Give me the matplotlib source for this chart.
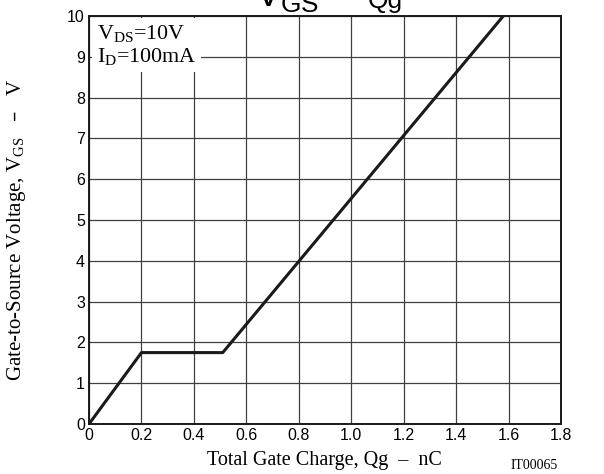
import matplotlib
matplotlib.use('Agg')
import matplotlib.pyplot as plt

# gate charge curve
qg = [0.0, 0.2, 0.51, 1.58]
vgs = [0.0, 1.75, 1.75, 10.0]

x_ticks = [0, 0.2, 0.4, 0.6, 0.8, 1.0, 1.2, 1.4, 1.6, 1.8]
x_labels = ['0', '0.2', '0.4', '0.6', '0.8', '1.0', '1.2', '1.4', '1.6', '1.8']
y_ticks = list(range(0, 11))

W, H = 604, 474
fig = plt.figure(figsize=(W / 100, H / 100), dpi=100)
ax = fig.add_axes([89 / W, 1 - 424 / H, 472 / W, 408 / H])

ax.plot(qg, vgs, color='#1a1a1a', lw=2.2, zorder=3, solid_capstyle='butt')

ax.set_xlim(0, 1.8)
ax.set_ylim(0, 10)
ax.set_xticks(x_ticks)
ax.set_xticklabels(x_labels)
ax.set_yticks(y_ticks)
ax.tick_params(length=0, labelsize=11.5, pad=3)
for lab in ax.get_xticklabels() + ax.get_yticklabels():
    lab.set_fontfamily('Liberation Sans')
ax.grid(True, color='#404040', lw=0.9)
for s in ax.spines.values():
    s.set_linewidth(1.4)
    s.set_color('#1a1a1a')

serif = 'Liberation Serif'
ax.text(8 / 472, 1 - 7 / 408,
        '$\\mathregular{V_{DS}}$=10V\n$\\mathregular{I_D}$=100mA',
        transform=ax.transAxes, ha='left', va='top', fontsize=15.8,
        family=serif, linespacing=1.15, zorder=4, clip_on=True,
        bbox=dict(facecolor='white', edgecolor='none', pad=3.5))

fig.text(324 / W, 1 - 465 / H, 'Total Gate Charge, Qg  \u2013  nC', family=serif,
         fontsize=14.5, ha='center', va='baseline')
fig.text(17 / W, 1 - 230 / H,
         'Gate-to-Source Voltage, $\\mathregular{V_{GS}}$   \u2013   V',
         family=serif, fontsize=15, rotation=90, ha='center', va='center')

fig.text(558 / W, 1 - 469 / H, 'IT00065', family=serif, fontsize=10,
         ha='right', va='baseline')

# title is clipped by the top edge in the original
fig.text(255 / W, 1 - 7 / H, '$\\mathregular{V_{GS}}$', family='Liberation Sans',
         fontsize=27, ha='left', va='baseline')
fig.text(368 / W, 1 - 8 / H, 'Qg', family='Liberation Sans',
         fontsize=19, ha='left', va='baseline')

fig.savefig('out.png', dpi=100)
